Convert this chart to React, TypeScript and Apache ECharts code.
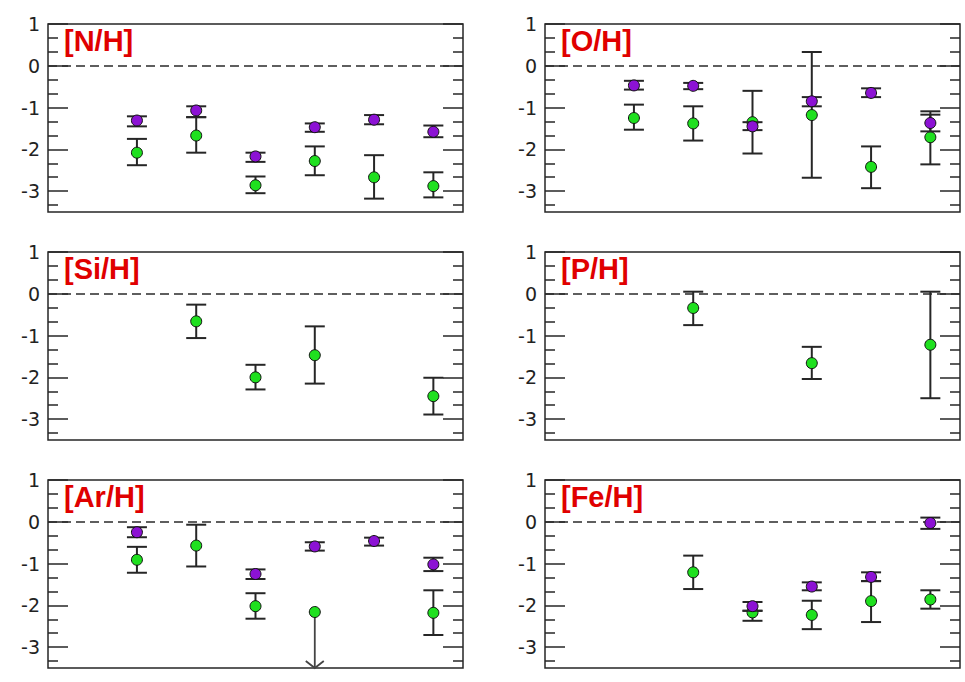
import React, { useEffect, useRef } from "react";
import * as echarts from "echarts";

// ---------- data ----------
const panelTitles = ["[N/H]", "[O/H]", "[Si/H]", "[P/H]", "[Ar/H]", "[Fe/H]"];
const xCat = [1, 2, 3, 4, 5, 6];
const yMin = -3.5;
const yMax = 1;
const majorTicks = [-3, -2, -1, 0, 1];
const minorTicks = [-3.3333, -2.6667, -2.3333, -1.6667, -1.3333, -0.6667, -0.3333, 0.3333, 0.6667];

// [N/H]
const nhGreen = [-2.08, -1.67, -2.86, -2.28, -2.67, -2.88];
const nhGreenLo = [-2.38, -2.08, -3.05, -2.62, -3.18, -3.15];
const nhGreenHi = [-1.75, -1.23, -2.65, -1.93, -2.14, -2.55];
const nhPurple = [-1.31, -1.07, -2.17, -1.47, -1.29, -1.58];
const nhPurpleLo = [-1.45, -1.23, -2.3, -1.58, -1.4, -1.71];
const nhPurpleHi = [-1.21, -0.97, -2.08, -1.38, -1.18, -1.43];

// [O/H]
const ohGreen = [-1.25, -1.38, -1.35, -1.18, -2.42, -1.71];
const ohGreenLo = [-1.53, -1.79, -2.1, -2.68, -2.93, -2.36];
const ohGreenHi = [-0.93, -0.97, -0.6, 0.33, -1.93, -1.09];
const ohPurple = [-0.47, -0.48, -1.45, -0.85, -0.65, -1.37];
const ohPurpleLo = [-0.57, -0.56, -1.54, -0.97, -0.75, -1.57];
const ohPurpleHi = [-0.36, -0.41, -1.35, -0.75, -0.54, -1.17];

// [Si/H]
const siGreen = [null, -0.66, -2.0, -1.47, null, -2.45];
const siGreenLo = [null, -1.06, -2.29, -2.15, null, -2.89];
const siGreenHi = [null, -0.26, -1.7, -0.78, null, -2.01];

// [P/H]
const pGreen = [null, -0.34, null, -1.66, null, -1.22];
const pGreenLo = [null, -0.75, null, -2.04, null, -2.5];
const pGreenHi = [null, 0.05, null, -1.27, null, 0.05];

// [Ar/H]
const arGreen = [-0.91, -0.57, -2.02, -2.16, null, -2.18];
const arGreenLo = [-1.22, -1.07, -2.32, null, null, -2.71];
const arGreenHi = [-0.6, -0.07, -1.71, null, null, -1.64];
const arGreenUpperLimit = [null, null, null, -2.16, null, null];
const arPurple = [-0.25, null, -1.25, -0.59, -0.46, -1.02];
const arPurpleLo = [-0.37, null, -1.37, -0.69, -0.57, -1.18];
const arPurpleHi = [-0.13, null, -1.14, -0.49, -0.38, -0.86];

// [Fe/H]
const feGreen = [null, -1.21, -2.17, -2.23, -1.9, -1.86];
const feGreenLo = [null, -1.61, -2.37, -2.57, -2.4, -2.08];
const feGreenHi = [null, -0.81, -2.13, -1.89, -1.42, -1.64];
const fePurple = [null, null, -2.02, -1.55, -1.32, -0.03];
const fePurpleLo = [null, null, -2.13, -1.64, -1.42, -0.17];
const fePurpleHi = [null, null, -1.92, -1.45, -1.21, 0.1];

type Arr = (number | null)[];
interface Panel {
  green: Arr; greenLo: Arr; greenHi: Arr;
  purple?: Arr; purpleLo?: Arr; purpleHi?: Arr;
  upper?: Arr;
}
const panels: Panel[] = [
  { green: nhGreen, greenLo: nhGreenLo, greenHi: nhGreenHi, purple: nhPurple, purpleLo: nhPurpleLo, purpleHi: nhPurpleHi },
  { green: ohGreen, greenLo: ohGreenLo, greenHi: ohGreenHi, purple: ohPurple, purpleLo: ohPurpleLo, purpleHi: ohPurpleHi },
  { green: siGreen, greenLo: siGreenLo, greenHi: siGreenHi },
  { green: pGreen, greenLo: pGreenLo, greenHi: pGreenHi },
  { green: arGreen, greenLo: arGreenLo, greenHi: arGreenHi, purple: arPurple, purpleLo: arPurpleLo, purpleHi: arPurpleHi, upper: arGreenUpperLimit },
  { green: feGreen, greenLo: feGreenLo, greenHi: feGreenHi, purple: fePurple, purpleLo: fePurpleLo, purpleHi: fePurpleHi },
];

// ---------- styling / layout ----------
const GREEN = "#1fe01f";
const PURPLE = "#8c12d4";
const INK = "#262626";
const colLeft = [48, 545];
const rowTop = [24, 252, 480];
const gridW = 415;
const gridH = 188;

function pts(vals: Arr) {
  const out: number[][] = [];
  vals.forEach((v, i) => { if (v != null) out.push([xCat[i], v]); });
  return out;
}
function bars(lo: Arr, hi: Arr) {
  const out: number[][] = [];
  lo.forEach((l, i) => { const h = hi[i]; if (l != null && h != null) out.push([xCat[i], l, h]); });
  return out;
}

const errStyle = { stroke: INK, lineWidth: 2 };
function renderErr(params: any, api: any) {
  const x = api.value(0), lo = api.value(1), hi = api.value(2);
  const a = api.coord([x, lo]);
  const b = api.coord([x, hi]);
  const cap = 10;
  return {
    type: "group",
    children: [
      { type: "line", shape: { x1: a[0], y1: a[1], x2: b[0], y2: b[1] }, style: errStyle },
      { type: "line", shape: { x1: a[0] - cap, y1: a[1], x2: a[0] + cap, y2: a[1] }, style: errStyle },
      { type: "line", shape: { x1: b[0] - cap, y1: b[1], x2: b[0] + cap, y2: b[1] }, style: errStyle },
    ],
  };
}
function renderArrow(params: any, api: any) {
  const x = api.value(0), y = api.value(1);
  const a = api.coord([x, y]);
  const b = api.coord([x, yMin]);
  const st = { stroke: "#444", lineWidth: 1.8 };
  return {
    type: "group",
    children: [
      { type: "line", shape: { x1: a[0], y1: a[1], x2: b[0], y2: b[1] }, style: st },
      { type: "polyline", shape: { points: [[b[0] - 9, b[1] - 7], [b[0], b[1]], [b[0] + 9, b[1] - 7]] }, style: { ...st, fill: "none" } },
    ],
  };
}

function buildOption() {
  const grid: any[] = [];
  const xAxis: any[] = [];
  const yAxis: any[] = [];
  const series: any[] = [];
  const title: any[] = [];
  panels.forEach((p, i) => {
    const r = Math.floor(i / 2), c = i % 2;
    grid.push({ left: colLeft[c], top: rowTop[r], width: gridW, height: gridH, show: true, borderColor: INK, borderWidth: 1.5, backgroundColor: "transparent" });
    xAxis.push({ type: "value", gridIndex: i, min: -0.5, max: 6.5, show: false, axisLine: { onZero: false } });
    const base = { type: "value", gridIndex: i, min: yMin, max: yMax, splitLine: { show: false }, axisLine: { show: false, onZero: false } };
    const yi = yAxis.length;
    yAxis.push({
      ...base, position: "left",
      axisTick: { show: true, inside: true, length: 20, customValues: majorTicks, lineStyle: { color: INK, width: 1.5 } },
      axisLabel: { show: true, customValues: majorTicks, fontSize: 19, color: "#222", fontFamily: "DejaVu Sans", margin: 8 },
    });
    yAxis.push({
      ...base, position: "left",
      axisTick: { show: true, inside: true, length: 10, customValues: minorTicks, lineStyle: { color: INK, width: 1.5 } },
      axisLabel: { show: false },
    });
    yAxis.push({
      ...base, position: "right",
      axisTick: { show: true, inside: true, length: 20, customValues: majorTicks, lineStyle: { color: INK, width: 1.5 } },
      axisLabel: { show: false },
    });
    yAxis.push({
      ...base, position: "right",
      axisTick: { show: true, inside: true, length: 10, customValues: minorTicks, lineStyle: { color: INK, width: 1.5 } },
      axisLabel: { show: false },
    });
    title.push({
      text: panelTitles[i], left: colLeft[c] + 16, top: rowTop[r] + 2, padding: 0,
      textStyle: { color: "#e00000", fontSize: 29, fontWeight: "bold", fontFamily: "Liberation Sans" },
    });
    series.push({
      type: "custom", xAxisIndex: i, yAxisIndex: yi, z: 2,
      renderItem: renderErr, encode: { x: 0, y: [1, 2] },
      data: bars(p.greenLo, p.greenHi),
      markLine: {
        silent: true, symbol: "none", label: { show: false },
        lineStyle: { type: [9, 5], color: "#2a2a2a", width: 1.6 },
        data: [{ yAxis: 0 }],
      },
    });
    if (p.upper) {
      series.push({
        type: "custom", xAxisIndex: i, yAxisIndex: yi, z: 2,
        renderItem: renderArrow, encode: { x: 0, y: 1 },
        data: pts(p.upper),
      });
    }
    series.push({
      type: "scatter", xAxisIndex: i, yAxisIndex: yi, z: 3, symbol: "circle", symbolSize: 11,
      itemStyle: { color: GREEN, borderColor: "#111", borderWidth: 1, opacity: 1 },
      data: pts(p.green),
    });
    if (p.purple && p.purpleLo && p.purpleHi) {
      series.push({
        type: "custom", xAxisIndex: i, yAxisIndex: yi, z: 4,
        renderItem: renderErr, encode: { x: 0, y: [1, 2] },
        data: bars(p.purpleLo, p.purpleHi),
      });
      series.push({
        type: "scatter", xAxisIndex: i, yAxisIndex: yi, z: 5, symbol: "circle", symbolSize: 11,
        itemStyle: { color: PURPLE, borderColor: "#111", borderWidth: 1, opacity: 1 },
        data: pts(p.purple),
      });
    }
  });
  return { animation: false, backgroundColor: "#ffffff", title, grid, xAxis, yAxis, series };
}

export default function App() {
  const ref = useRef<HTMLDivElement>(null);
  useEffect(() => {
    if (!ref.current) return;
    const chart = echarts.init(ref.current, undefined, { renderer: "svg" });
    chart.setOption(buildOption() as any);
    return () => chart.dispose();
  }, []);
  return <div ref={ref} style={{ position: "absolute", left: 0, top: 0, width: 965, height: 682 }} />;
}
